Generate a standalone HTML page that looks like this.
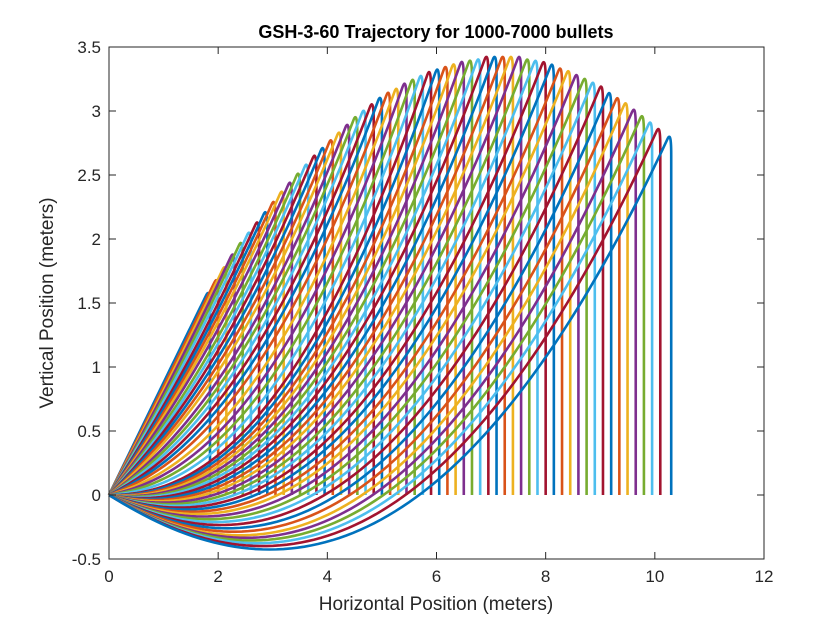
<!DOCTYPE html>
<html><head><meta charset="utf-8"><style>
body{margin:0;background:#fff;}
svg{display:block;font-family:"Liberation Sans",Helvetica,Arial,sans-serif;}
</style></head><body>
<svg id="chart" width="840" height="630" viewBox="0 0 840 630" xmlns="http://www.w3.org/2000/svg">
<rect width="840" height="630" fill="#fff"/>
<text x="436" y="38" text-anchor="middle" font-size="18" font-weight="bold" fill="#000">GSH-3-60 Trajectory for 1000-7000 bullets</text>
<g id="plot"></g>
<g id="axes"></g>
<text x="436" y="610" text-anchor="middle" font-size="19" fill="#262626">Horizontal Position (meters)</text>
<text transform="translate(53,303) rotate(-90)" text-anchor="middle" font-size="19" fill="#262626">Vertical Position (meters)</text>
</svg>
<script>
const endX=[1.85,2.00,2.15,2.30,2.45,2.60,2.75,2.90,3.05,3.20,3.35,3.50,3.65,3.80,3.95,4.10,4.25,4.40,4.55,4.70,4.85,5.00,5.15,5.30,5.45,5.60,5.75,5.90,6.05,6.20,6.35,6.50,6.65,6.80,6.95,7.10,7.25,7.40,7.55,7.70,7.85,8.00,8.15,8.30,8.45,8.60,8.75,8.90,9.05,9.20,9.35,9.50,9.65,9.80,9.95,10.10,10.30];
const peakY=[1.56,1.66,1.76,1.86,1.95,2.03,2.11,2.19,2.27,2.35,2.42,2.49,2.56,2.63,2.69,2.75,2.81,2.87,2.93,2.98,3.03,3.08,3.12,3.15,3.19,3.22,3.25,3.28,3.30,3.32,3.34,3.36,3.37,3.38,3.40,3.40,3.40,3.40,3.40,3.38,3.37,3.36,3.34,3.31,3.29,3.26,3.23,3.20,3.17,3.12,3.08,3.04,2.99,2.94,2.89,2.84,2.78];
const initSlope=[0.88,0.84,0.80,0.77,0.73,0.70,0.66,0.63,0.60,0.57,0.54,0.50,0.47,0.44,0.41,0.38,0.35,0.31,0.28,0.25,0.22,0.19,0.16,0.12,0.09,0.06,0.03,0.00,-0.01,-0.02,-0.03,-0.04,-0.05,-0.06,-0.07,-0.08,-0.09,-0.10,-0.11,-0.12,-0.13,-0.14,-0.15,-0.16,-0.17,-0.18,-0.19,-0.20,-0.21,-0.22,-0.23,-0.24,-0.245,-0.25,-0.255,-0.26,-0.265];
const xTicks=[0,2,4,6,8,10,12];
const yTicks=[-0.5,0,0.5,1,1.5,2,2.5,3,3.5];
const colors=["#0072BD","#D95319","#EDB120","#7E2F8E","#77AC30","#4DBEEE","#A2142F"];
const L=109,R=764,T=47,B=559,xmin=0,xmax=12,ymin=-0.5,ymax=3.5;
const sx=v=>L+(v-xmin)/(xmax-xmin)*(R-L);
const sy=v=>B-(v-ymin)/(ymax-ymin)*(B-T);
const NS="http://www.w3.org/2000/svg";
const plot=document.getElementById('plot');
const P=2.2;
for(let i=0;i<endX.length;i++){
  const xe=endX[i],h=peakY[i],s=initSlope[i];
  const e=xe-0.07;
  const A=h-s*e;
  const f=x=>s*x+A*Math.pow(x/e,P);
  let d="M"+sx(0)+","+sy(0);
  const n=80;
  for(let k=1;k<=n;k++){const x=e*k/n;d+=" L"+sx(x).toFixed(2)+","+sy(f(x)).toFixed(2);}
  const sl=s+A*P/e;
  d+=" C"+sx(e+0.035).toFixed(2)+","+sy(h+sl*0.035).toFixed(2)+" "+sx(xe).toFixed(2)+","+sy(h+0.04).toFixed(2)+" "+sx(xe).toFixed(2)+","+sy(h-0.12).toFixed(2);
  d+=" L"+sx(xe).toFixed(2)+","+sy(0).toFixed(2);
  const p=document.createElementNS(NS,'path');
  
  
  p.setAttribute('d',d);
  p.setAttribute('fill','none');
  p.setAttribute('stroke',colors[i%7]);
  p.setAttribute('stroke-width','2.6');
  plot.appendChild(p);
}
const axes=document.getElementById('axes');
const box=document.createElementNS(NS,'rect');


box.setAttribute('x',L);box.setAttribute('y',T);box.setAttribute('width',R-L);box.setAttribute('height',B-T);
box.setAttribute('fill','none');box.setAttribute('stroke','#262626');box.setAttribute('stroke-width','1');
axes.appendChild(box);
function line(x1,y1,x2,y2){const l=document.createElementNS(NS,'line');l.setAttribute('x1',x1);l.setAttribute('y1',y1);l.setAttribute('x2',x2);l.setAttribute('y2',y2);l.setAttribute('stroke','#262626');l.setAttribute('stroke-width','1');


axes.appendChild(l);}
xTicks.forEach(v=>{const x=sx(v);line(x,B,x,B-7);line(x,T,x,T+7);
 const t=document.createElementNS(NS,'text');
 
 
 t.setAttribute('x',x);t.setAttribute('y',B+23);t.setAttribute('text-anchor','middle');t.setAttribute('font-size','17');t.setAttribute('fill','#262626');t.textContent=v;axes.appendChild(t);});
yTicks.forEach(v=>{const y=sy(v);line(L,y,L+7,y);line(R,y,R-7,y);
 const t=document.createElementNS(NS,'text');
 
 
 t.setAttribute('x',L-8);t.setAttribute('y',y+6);t.setAttribute('text-anchor','end');t.setAttribute('font-size','17');t.setAttribute('fill','#262626');t.textContent=v;axes.appendChild(t);});
</script>
</body></html>
